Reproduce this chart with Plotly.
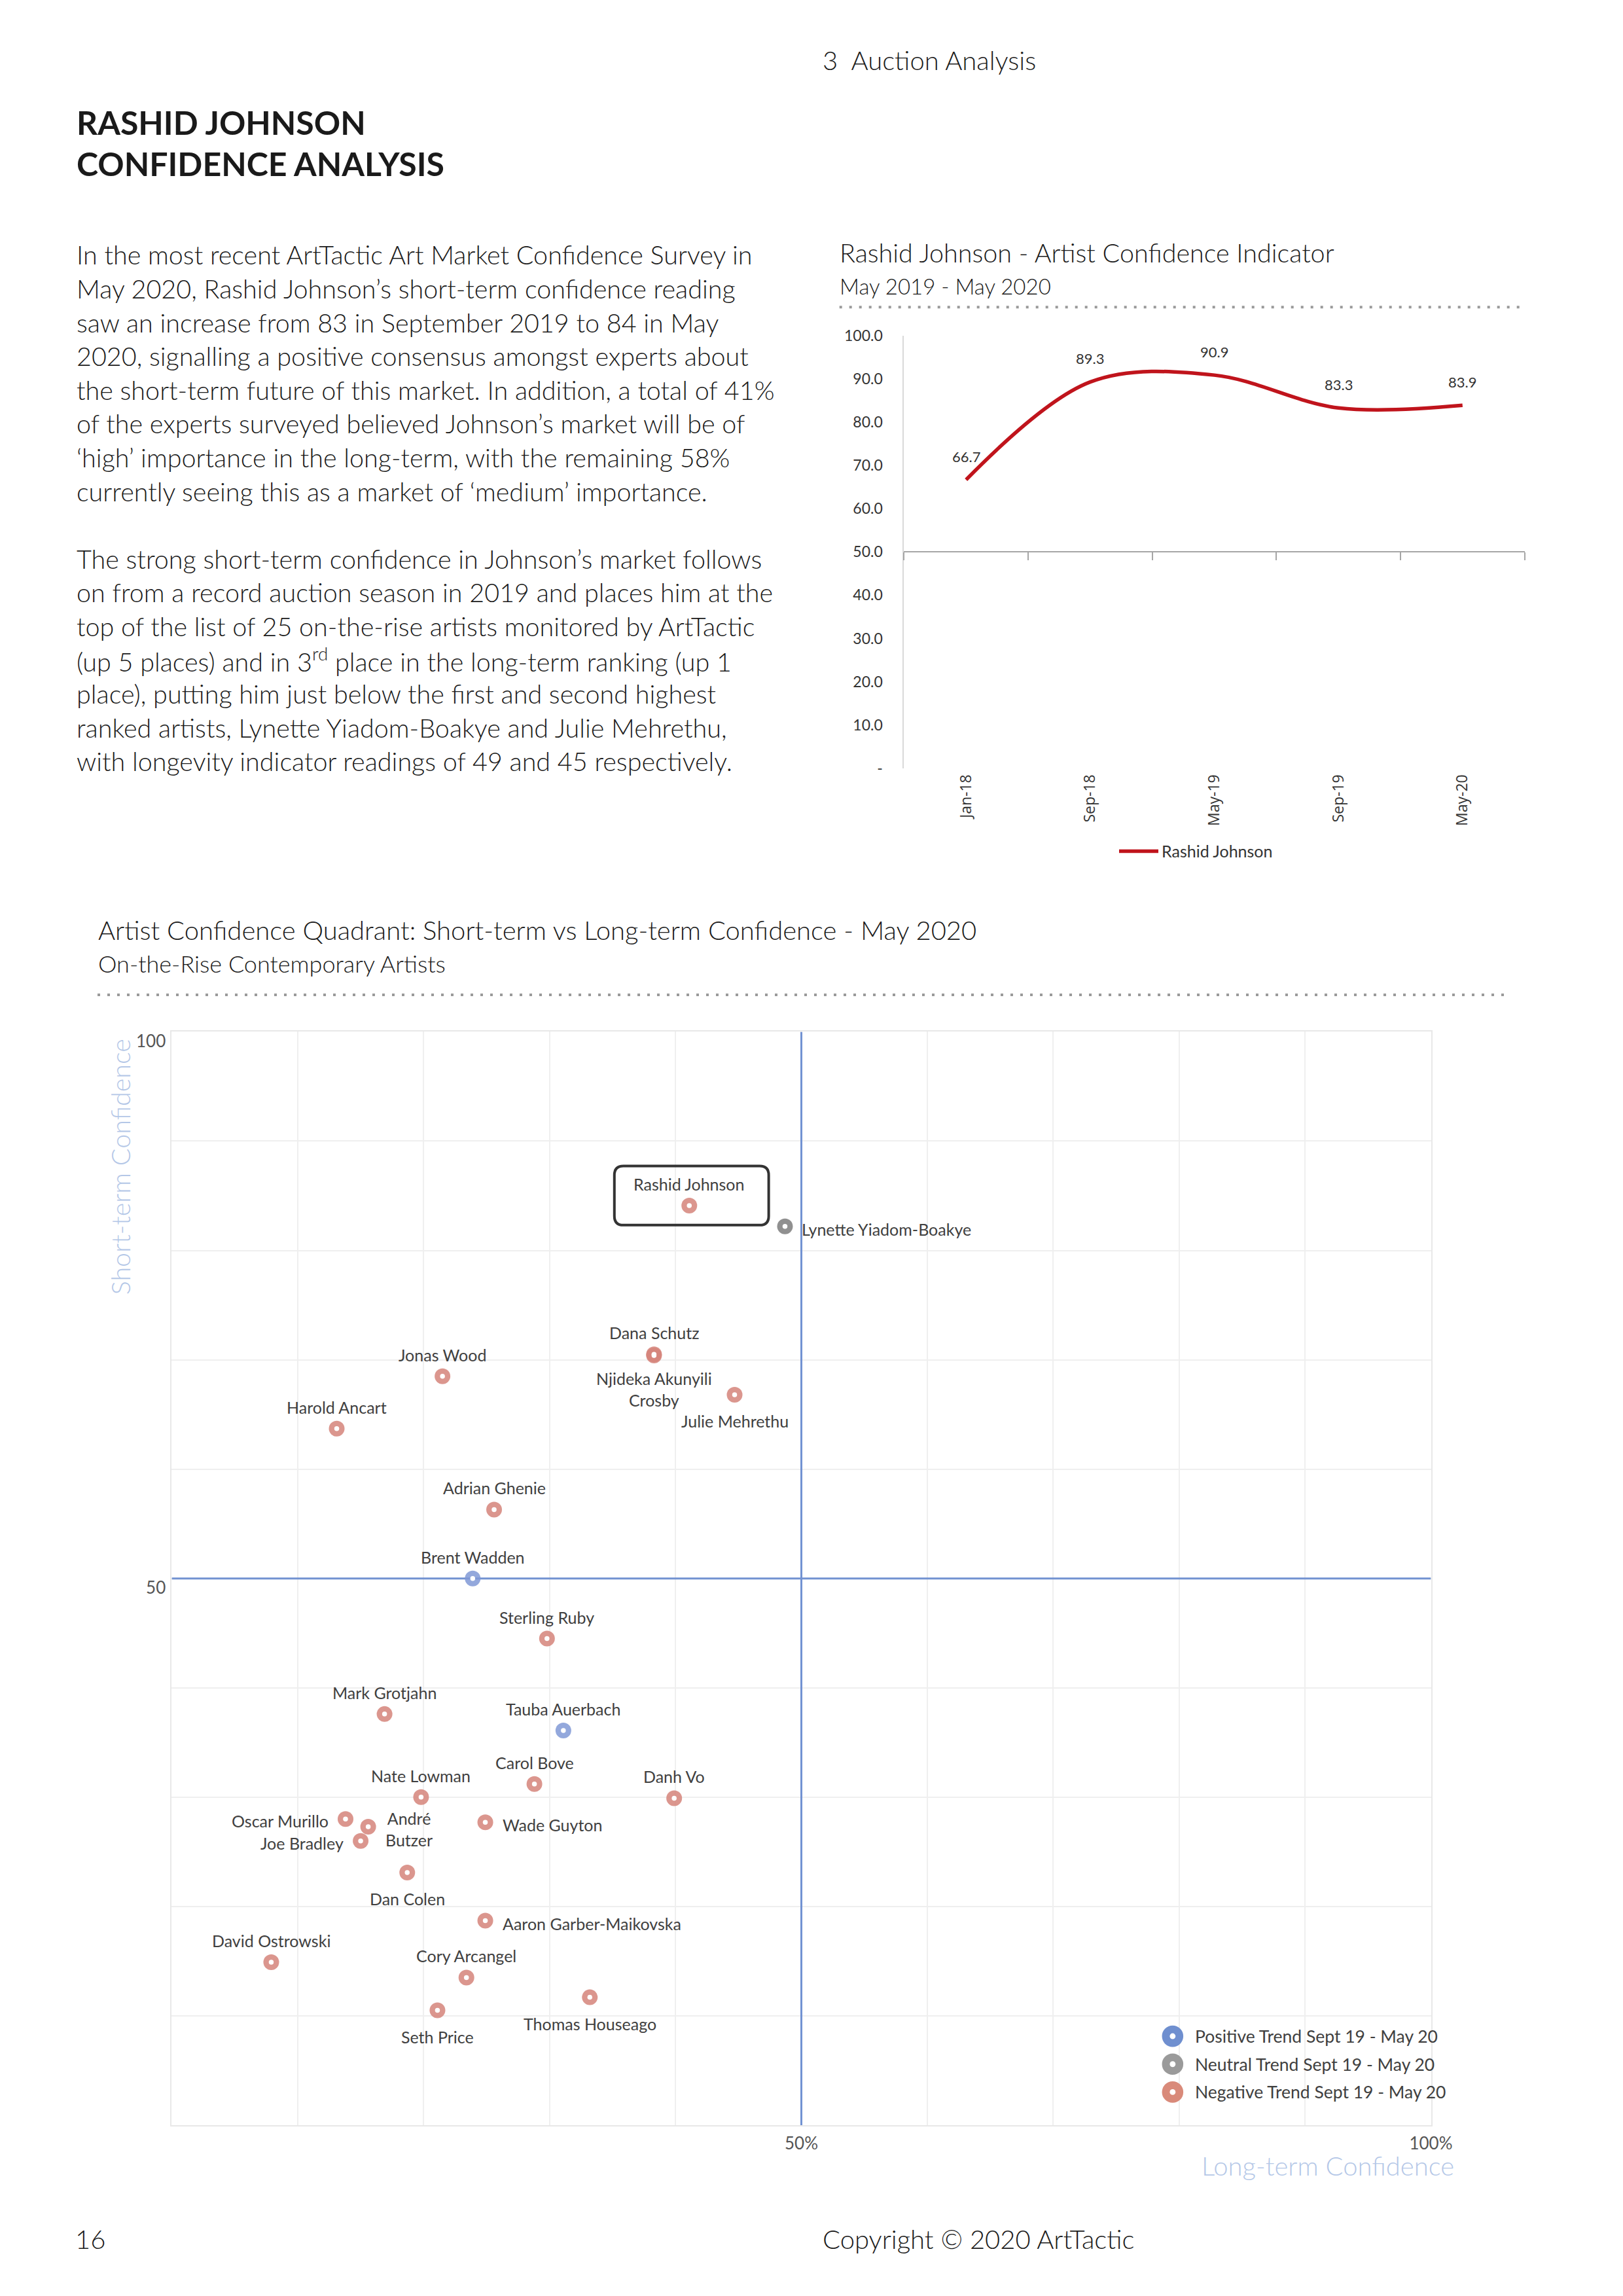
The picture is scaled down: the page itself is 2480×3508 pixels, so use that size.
import plotly.graph_objects as go

W, H = 2480, 3508

# ---------------- data ----------------
periods = ["Jan-18", "Sep-18", "May-19", "Sep-19", "May-20"]
rj_values = [66.7, 89.3, 90.9, 83.3, 83.9]
line_ytick_vals = [0, 10, 20, 30, 40, 50, 60, 70, 80, 90, 100]
line_ytick_text = ["-", "10.0", "20.0", "30.0", "40.0", "50.0", "60.0", "70.0", "80.0", "90.0", "100.0"]

artists = ["Rashid Johnson", "Lynette Yiadom-Boakye", "Dana Schutz", "Njideka Akunyili<br>Crosby",
           "Jonas Wood", "Julie Mehrethu", "Harold Ancart", "Adrian Ghenie", "Brent Wadden",
           "Sterling Ruby", "Mark Grotjahn", "Tauba Auerbach", "Carol Bove", "Nate Lowman",
           "Danh Vo", "Oscar Murillo", "André<br>Butzer", "Joe Bradley", "Wade Guyton",
           "Dan Colen", "Aaron Garber-Maikovska", "David Ostrowski", "Cory Arcangel",
           "Thomas Houseago", "Seth Price"]
long_term = [41.1, 48.7, 38.3, 38.3, 21.5, 44.7, 13.1, 25.6, 23.9,
             29.8, 16.9, 31.1, 28.8, 19.8, 39.9, 13.8, 15.6, 15.0, 24.9,
             18.7, 24.9, 7.9, 23.4, 33.2, 21.1]
short_term = [84.1, 82.2, 70.5, 70.4, 68.5, 66.8, 63.7, 56.3, 50.0,
              44.5, 37.6, 36.1, 31.2, 30.0, 29.9, 28.0, 27.3, 26.0, 27.7,
              23.1, 18.7, 14.9, 13.5, 11.7, 10.5]
trend = ["Negative", "Neutral", "Negative", "Negative", "Negative", "Negative", "Negative",
         "Negative", "Positive", "Negative", "Negative", "Positive", "Negative", "Negative",
         "Negative", "Negative", "Negative", "Negative", "Negative", "Negative", "Negative",
         "Negative", "Negative", "Negative", "Negative"]
trend_names = ["Positive", "Neutral", "Negative"]
trend_legend_text = ["Positive Trend Sept 19 - May 20", "Neutral Trend Sept 19 - May 20",
                     "Negative Trend Sept 19 - May 20"]
scatter_tick_vals = [50, 100]
x_tick_text = ["50%", "100%"]
y_tick_text = ["50", "100"]
quadrant_mid = 50

body_lines = [
    "In the most recent ArtTactic Art Market Confidence Survey in",
    "May 2020, Rashid Johnson’s short-term confidence reading",
    "saw an increase from 83 in September 2019 to 84 in May",
    "2020, signalling a positive consensus amongst experts about",
    "the short-term future of this market. In addition, a total of 41%",
    "of the experts surveyed believed Johnson’s market will be of",
    "‘high’ importance in the long-term, with the remaining 58%",
    "currently seeing this as a market of ‘medium’ importance.",
    "",
    "The strong short-term confidence in Johnson’s market follows",
    "on from a record auction season in 2019 and places him at the",
    "top of the list of 25 on-the-rise artists monitored by ArtTactic",
    "(up 5 places) and in 3<sup>rd</sup> place in the long-term ranking (up 1",
    "place), putting him just below the first and second highest",
    "ranked artists, Lynette Yiadom-Boakye and Julie Mehrethu,",
    "with longevity indicator readings of 49 and 45 respectively.",
]

# ---------------- styles / placement ----------------
marker_color = {"Positive": "#8099D6", "Neutral": "#7C7C7C", "Negative": "#D5847A"}
legend_color = {"Positive": "#6F8FCF", "Neutral": "#9A9A9A", "Negative": "#D98A7A"}
label_place = {
    "Lynette Yiadom-Boakye": "right", "Njideka Akunyili<br>Crosby": "below2",
    "Julie Mehrethu": "below", "Oscar Murillo": "left", "André<br>Butzer": "right",
    "Joe Bradley": "left", "Wade Guyton": "right", "Dan Colen": "below",
    "Aaron Garber-Maikovska": "right", "Thomas Houseago": "below", "Seth Price": "below",
}
place_style = {
    "above": dict(xanchor="center", yanchor="middle", xshift=0, yshift=33),
    "below": dict(xanchor="center", yanchor="middle", xshift=0, yshift=-40),
    "below2": dict(xanchor="center", yanchor="middle", xshift=0, yshift=-52),
    "right": dict(xanchor="left", yanchor="middle", xshift=24, yshift=-4),
    "left": dict(xanchor="right", yanchor="middle", xshift=-24, yshift=-3),
}

FONT = "Lato"
TXT = "#1a1a1a"
LBL = "#404040"


def fx(p):
    return p / W


def fy(p):
    return 1 - p / H


# pixel frames on the page
LC_X0, LC_X1, LC_Y0, LC_Y1 = 1400, 2361, 1168, 502      # line chart plot area (bottom, top)
SC_X0, SC_X1, SC_Y0, SC_Y1 = 266, 2216, 3258, 1574      # scatter plot area

fig = go.Figure()

# ---- line chart ----
fig.add_trace(go.Scatter(
    x=periods, y=rj_values, mode="lines", name="Rashid Johnson",
    line=dict(color="#C0141C", width=5.5, shape="spline", smoothing=1.0),
    xaxis="x", yaxis="y", hoverinfo="skip", showlegend=True))
# invisible trace carrying the category-boundary axis (crossing at 50)
fig.add_trace(go.Scatter(
    x=list(range(len(periods))), y=rj_values, mode="lines", opacity=0,
    xaxis="x2", yaxis="y", hoverinfo="skip", showlegend=False))

for p, v in zip(periods, rj_values):
    fig.add_annotation(x=p, y=v, xref="x", yref="y", text=f"{v:.1f}", showarrow=False,
                       yshift=36, font=dict(family=FONT, size=22, color="#333333"))

# ---- scatter ----
for t in trend_names:
    idx = [i for i, tr in enumerate(trend) if tr == t]
    fig.add_trace(go.Scatter(
        x=[long_term[i] for i in idx], y=[short_term[i] for i in idx], mode="markers",
        marker=dict(symbol="circle", size=24, color=marker_color[t], opacity=0.85,
                    line=dict(width=0)),
        xaxis="x3", yaxis="y3", hoverinfo="skip", showlegend=False, name=t))
# white centres of the ring markers
fig.add_trace(go.Scatter(
    x=long_term, y=short_term, mode="markers",
    marker=dict(symbol="circle", size=7.5, color="white", line=dict(width=0)),
    xaxis="x3", yaxis="y3", hoverinfo="skip", showlegend=False))

for a, xv, yv in zip(artists, long_term, short_term):
    st = place_style[label_place.get(a, "above")]
    fig.add_annotation(x=xv, y=yv, xref="x3", yref="y3", text=a, showarrow=False,
                       font=dict(family=FONT, size=25, color=LBL), **st)

shapes = []
# quadrant lines
shapes.append(dict(type="line", xref="x3", yref="y3", x0=quadrant_mid, x1=quadrant_mid, y0=0, y1=100,
                   line=dict(color="#7292D2", width=3), layer="between"))
shapes.append(dict(type="line", xref="x3", yref="y3", x0=0, x1=100, y0=quadrant_mid, y1=quadrant_mid,
                   line=dict(color="#7292D2", width=3), layer="between"))

# highlight box around Rashid Johnson
ri = artists.index("Rashid Johnson")
bx, by = long_term[ri], short_term[ri]
ux = 100 / (SC_X1 - SC_X0)
uy = 100 / (SC_Y0 - SC_Y1)
l, r = bx - 116 * ux, bx + 123 * ux
t_, b_ = by + 61 * uy, by - 30 * uy
rx, ry = 14 * ux, 14 * uy
path = (f"M {l+rx},{t_} L {r-rx},{t_} Q {r},{t_} {r},{t_-ry} L {r},{b_+ry} Q {r},{b_} {r-rx},{b_} "
        f"L {l+rx},{b_} Q {l},{b_} {l},{b_+ry} L {l},{t_-ry} Q {l},{t_} {l+rx},{t_} Z")
shapes.append(dict(type="path", xref="x3", yref="y3", path=path,
                   line=dict(color="#333333", width=4), layer="above"))

# dotted separators
shapes.append(dict(type="line", xref="paper", yref="paper", x0=fx(1300), x1=fx(2362), y0=fy(458), y1=fy(458),
                   line=dict(color="#9A9A9A", width=4, dash="4px,11px")))
shapes.append(dict(type="line", xref="paper", yref="paper", x0=fx(151), x1=fx(2330), y0=fy(1517), y1=fy(1517),
                   line=dict(color="#9A9A9A", width=4, dash="4px,11px")))

# scatter legend (symbols + text)
leg_x = 1816
leg_ys = [3121, 3164, 3207]
for t, lt, ly in zip(trend_names, trend_legend_text, leg_ys):
    R = 16.5
    shapes.append(dict(type="circle", xref="paper", yref="paper", x0=fx(leg_x - R), x1=fx(leg_x + R),
                       y0=fy(ly + R), y1=fy(ly - R), fillcolor=legend_color[t], line=dict(width=0)))
    r2 = 4.5
    shapes.append(dict(type="circle", xref="paper", yref="paper", x0=fx(leg_x - r2), x1=fx(leg_x + r2),
                       y0=fy(ly + r2), y1=fy(ly - r2), fillcolor="white", line=dict(width=0)))
    fig.add_annotation(x=fx(1849), y=fy(ly), xref="paper", yref="paper", text=lt, showarrow=False,
                       xanchor="left", yanchor="middle",
                       font=dict(family=FONT, size=26.5, color=LBL))


# ---- page text ----
def ptext(txt, x, y, size, color=TXT, weight=300, xanchor="left", angle=0, family=FONT):
    fig.add_annotation(x=fx(x), y=fy(y), xref="paper", yref="paper", text=txt, showarrow=False,
                       xanchor=xanchor, yanchor="middle", textangle=angle,
                       font=dict(family=family, size=size, color=color, weight=weight))


ptext("3\u00a0\u00a0Auction Analysis", 1272, 78, 40)
ptext("RASHID JOHNSON", 117, 173, 50, weight=700)
ptext("CONFIDENCE ANALYSIS", 117, 237, 50, weight=700)
for i, line in enumerate(body_lines):
    if line:
        ptext(line, 117, 377 + 52 * i, 39.5)

ptext("Rashid Johnson - Artist Confidence Indicator", 1298, 373, 39.5)
ptext("May 2019 - May 2020", 1298, 425, 33)
ptext("Artist Confidence Quadrant: Short-term vs Long-term Confidence - May 2020", 150, 1417, 40)
ptext("On-the-Rise Contemporary Artists", 150, 1469, 36)
ptext("Short-term Confidence", 186, 1782, 39.5, color="#B4C7E7", xanchor="center", angle=-90)
ptext("Long-term Confidence", 2254, 3320, 40, color="#B4C7E7", xanchor="right")
ptext("16", 115, 3433, 40)
ptext("Copyright © 2020 ArtTactic", 1272, 3433, 40)

# ---- layout ----
y50_pos = fy(LC_Y0) + 0.5 * (fy(LC_Y1) - fy(LC_Y0))

fig.update_layout(
    width=W, height=H, margin=dict(l=0, r=0, t=0, b=0),
    paper_bgcolor="white", plot_bgcolor="white",
    font=dict(family=FONT, color=TXT),
    hovermode=False,
    shapes=shapes,
    legend=dict(x=fx(1728), y=fy(1296), xanchor="left", yanchor="middle", orientation="h",
                itemwidth=60,
                font=dict(family=FONT, size=25, color="#333333"), bgcolor="rgba(0,0,0,0)"),
    xaxis=dict(domain=[fx(LC_X0), fx(LC_X1)], anchor="y", type="category", range=[-0.5, 4.5],
               showline=False, showgrid=False, zeroline=False, ticks="", tickangle=-90,
               tickfont=dict(family="Open Sans", size=23, color="#333333"), ticklabelstandoff=4),
    xaxis2=dict(overlaying="x", anchor="free", position=y50_pos, range=[-0.5, 4.5],
                tickmode="array", tickvals=[-0.5, 0.5, 1.5, 2.5, 3.5, 4.5],
                ticks="outside", ticklen=12, tickwidth=2, tickcolor="#A6A6A6",
                showline=True, linecolor="#A6A6A6", linewidth=2,
                showticklabels=False, showgrid=False, zeroline=False),
    yaxis=dict(domain=[fy(LC_Y0), fy(LC_Y1)], anchor="x", range=[0, 100],
               tickmode="array", tickvals=line_ytick_vals, ticktext=line_ytick_text,
               showline=True, linecolor="#D9D9D9", linewidth=2, showgrid=False, zeroline=False,
               ticks="", ticklabelstandoff=26,
               tickfont=dict(family=FONT, size=23, color="#333333")),
    xaxis3=dict(domain=[fx(SC_X0), fx(SC_X1)], anchor="y3", range=[0, 100],
                tickmode="array", tickvals=scatter_tick_vals, ticktext=x_tick_text,
                showgrid=True, gridcolor="#EFEFEF", gridwidth=2, zeroline=False,
                minor=dict(tickmode="linear", tick0=0, dtick=10, showgrid=True,
                           gridcolor="#EFEFEF", gridwidth=2, ticks=""),
                showline=True, linecolor="#E8E8E8", linewidth=2, mirror=True, ticks="",
                tickfont=dict(family=FONT, size=26, color="#555555"), ticklabelstandoff=4),
    yaxis3=dict(domain=[fy(SC_Y0), fy(SC_Y1)], anchor="x3", range=[0, 100],
                tickmode="array", tickvals=scatter_tick_vals, ticktext=y_tick_text,
                showgrid=True, gridcolor="#EFEFEF", gridwidth=2, zeroline=False,
                minor=dict(tickmode="linear", tick0=0, dtick=10, showgrid=True,
                           gridcolor="#EFEFEF", gridwidth=2, ticks=""),
                showline=True, linecolor="#E8E8E8", linewidth=2, mirror=True, ticks="",
                tickfont=dict(family=FONT, size=26, color="#555555"), ticklabelstandoff=2,
                ticklabelshift=14),
)

# pin the figure to the page's top-left corner (no default body margin)
pin_js = ("document.body.style.margin='0';"
          "var g=document.getElementById('{plot_id}');"
          "g.style.position='absolute';g.style.left='0px';g.style.top='0px';")

fig.write_html("out.html", post_script=pin_js, config={"displayModeBar": False})
